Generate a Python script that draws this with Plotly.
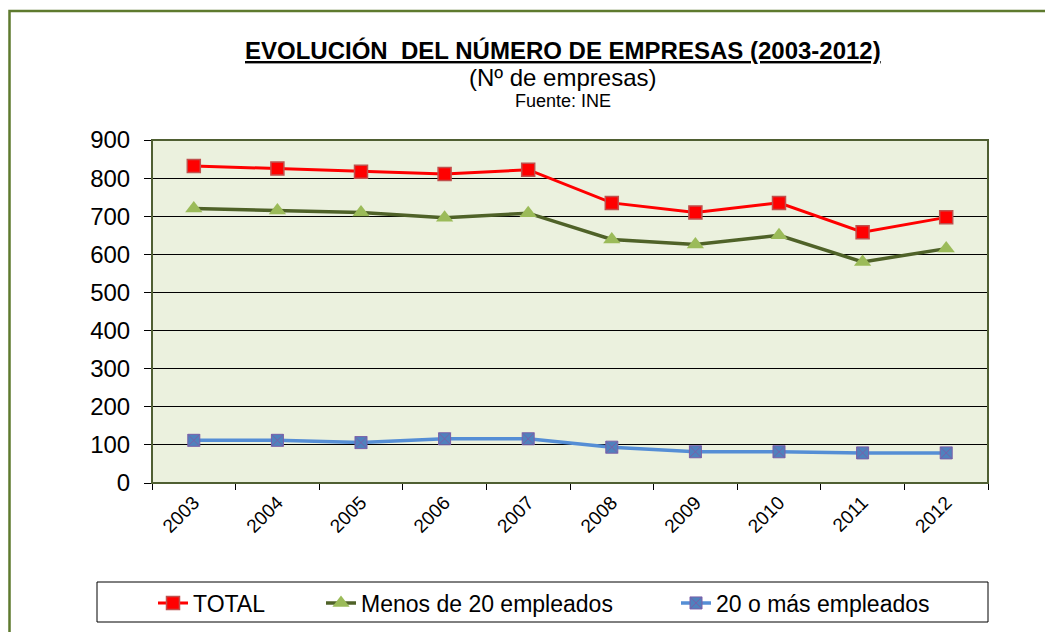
import plotly.graph_objects as go

years = ["2003", "2004", "2005", "2006", "2007", "2008", "2009", "2010", "2011", "2012"]
total = [832, 825, 817, 811, 822, 735, 710, 735, 658, 697]
menos_20 = [720, 715, 710, 696, 708, 639, 626, 650, 580, 615]
mas_20 = [112, 112, 106, 116, 116, 94, 82, 82, 79, 79]

y_ticks = list(range(0, 1000, 100))

FONT = "Arial, Liberation Sans, sans-serif"

# the page body has an 8px margin, so positions are given in window
# pixels and shifted by OFF into figure pixels
OFF = 8
W, H = 1053, 660
L, R, T, B = 152 - OFF, 988 - OFF, 140 - OFF, 483 - OFF


def px_x(p):
    return (p - OFF - L) / (R - L)


def px_y(p):
    return (B - (p - OFF)) / (B - T)


fig = go.Figure()

fig.add_trace(go.Scatter(
    x=years, y=total, name="TOTAL",
    mode="lines+markers",
    line=dict(color="#FF0000", width=3),
    marker=dict(symbol="square", size=13, color="#FF0000",
                line=dict(color="#C0504D", width=1.5)),
    legendwidth=123
))

fig.add_trace(go.Scatter(
    x=years, y=menos_20, name="Menos de 20 empleados",
    mode="lines+markers",
    line=dict(color="#4F6228", width=3.5),
    marker=dict(symbol="triangle-up", size=15, color="#9BBB59"),
    legendwidth=310
))

fig.add_trace(go.Scatter(
    x=years, y=mas_20, name="20 o más empleados",
    mode="lines+markers",
    line=dict(color="#558ED5", width=3.5),
    marker=dict(symbol="square-x", size=12, color="#4F81BD",
                line=dict(color="#7A5FA8", width=1)),
    legendwidth=230
))

fig.update_layout(
    width=W,
    height=H,
    margin=dict(l=L, r=W - R, t=T, b=H - B),
    paper_bgcolor="white",
    plot_bgcolor="#EBF1DE",
    font=dict(family=FONT, color="black"),
    showlegend=True,
    legend=dict(
        orientation="h",
        x=px_x(153), xanchor="left",
        y=px_y(603), yanchor="middle",
        font=dict(size=23, family=FONT),
        bgcolor="rgba(0,0,0,0)",
        borderwidth=0
    ),
    xaxis=dict(
        type="category",
        range=[-0.5, 9.5],
        tickangle=-45,
        tickfont=dict(size=19),
        ticks="outside",
        ticklen=6,
        tickson="boundaries",
        tickcolor="black",
        showline=True,
        linecolor="black",
        linewidth=1,
        showgrid=False
    ),
    yaxis=dict(
        range=[0, 900],
        tickvals=y_ticks,
        tickfont=dict(size=24),
        ticks="outside",
        ticklen=7,
        ticklabelstandoff=9,
        tickcolor="black",
        showline=True,
        linecolor="#333333",
        linewidth=1,
        showgrid=True,
        gridcolor="black",
        gridwidth=1,
        zeroline=False
    ),
    shapes=[
        # outer chart frame
        dict(type="rect", xref="paper", yref="paper",
             x0=px_x(9.5), x1=px_x(1080), y0=px_y(11), y1=px_y(720),
             line=dict(color="#5E7A2E", width=2.5), layer="below"),
        # plot area border
        dict(type="rect", xref="paper", yref="paper",
             x0=0, x1=1, y0=0, y1=1,
             line=dict(color="#4F5F32", width=2)),
        # legend box
        dict(type="rect", xref="paper", yref="paper",
             x0=px_x(97), x1=px_x(988), y0=px_y(582), y1=px_y(622),
             line=dict(color="black", width=1), fillcolor="white",
             layer="below"),
    ],
    annotations=[
        dict(text="<b><u>EVOLUCIÓN  DEL NÚMERO DE EMPRESAS (2003-2012)</u></b>",
             xref="paper", yref="paper", x=px_x(563), y=px_y(50),
             xanchor="center", yanchor="middle",
             showarrow=False, font=dict(size=24, family=FONT)),
        dict(text="(Nº de empresas)",
             xref="paper", yref="paper", x=px_x(563), y=px_y(77),
             xanchor="center", yanchor="middle",
             showarrow=False, font=dict(size=24, family=FONT)),
        dict(text="Fuente: INE",
             xref="paper", yref="paper", x=px_x(563), y=px_y(101),
             xanchor="center", yanchor="middle",
             showarrow=False, font=dict(size=18, family=FONT)),
    ]
)

fig.write_html("out.html")
